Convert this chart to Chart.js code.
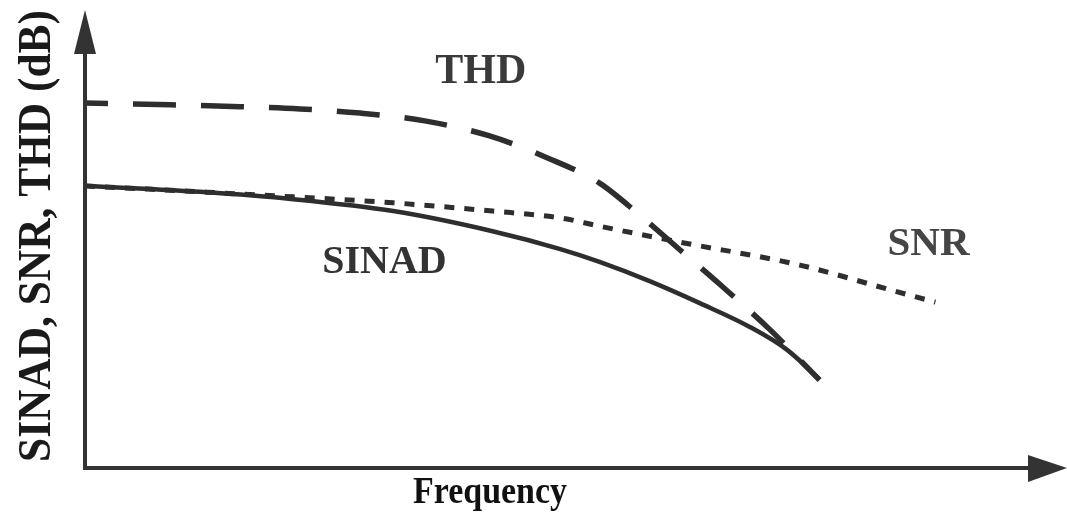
<!DOCTYPE html>
<html>
<head>
<meta charset="utf-8">
<script src="https://cdn.jsdelivr.net/npm/chart.js@4/dist/chart.umd.min.js"></script>
<style>
  html, body { margin: 0; padding: 0; background: #fff; }
  #wrap { width: 1067px; height: 518px; }
</style>
</head>
<body>
<div id="wrap"><canvas id="sinad-chart" width="1067" height="518"></canvas></div>
<script>
// frequency (arbitrary units, 0-100) and level (dB, arbitrary 0-100)
let thdFreq = [0, 8.7, 15.8, 21.9, 28.0, 34.6, 41.2, 47.1, 52.4, 56.5, 60.6, 64.7, 69.8, 74.8]
let thdDb   = [79.7, 79.3, 78.9, 78.4, 77.5, 75.8, 72.5, 67.7, 62.2, 55.2, 47.6, 40.0, 30.1, 19.2]

let sinadFreq = [0, 6.6, 11.7, 21.2, 31.4, 41.5, 48.4, 52.4, 57.5, 62.6, 67.7, 71.5, 74.8]
let sinadDb   = [61.6, 60.9, 60.3, 58.7, 56.1, 51.7, 47.8, 45.0, 40.8, 36.0, 30.8, 25.8, 19.4]

let snrFreq = [0, 11.7, 21.2, 31.4, 41.5, 48.4, 52.4, 60.6, 72.8, 82.0, 86.6]
let snrDb   = [61.6, 60.3, 59.2, 57.9, 56.1, 54.6, 52.8, 49.3, 44.3, 38.9, 36.2]

// curve names and where they sit (in chart units)
let curveNames = ['THD', 'SINAD', 'SNR']
let curveNameAt = [[40.3, 84.1], [30.5, 42.6], [85.9, 46.5]]

let xTitle = 'Frequency'
let yTitle = 'SINAD, SNR, THD (dB)'

let ink = '#2e2e2e'

function toPoints(xs, ys) {
    return xs.map((x, i) => ({x: x, y: ys[i]}))
}

// draws the arrowed axes, the curve names and the axis titles
let sketchPlugin = {
    id: 'sketch',
    afterDatasetsDraw(chart) {
        let ctx = chart.ctx
        let a = chart.chartArea
        let xs = chart.scales.x
        let ys = chart.scales.y
        ctx.save()

        // axes
        ctx.strokeStyle = '#333'
        ctx.fillStyle = '#333'
        ctx.lineWidth = 4
        ctx.lineCap = 'butt'
        ctx.beginPath()
        ctx.moveTo(a.left, a.top + 40)
        ctx.lineTo(a.left, a.bottom)
        ctx.lineTo(a.right - 38, a.bottom)
        ctx.stroke()
        // y arrow head
        ctx.beginPath()
        ctx.moveTo(a.left, a.top)
        ctx.lineTo(a.left - 11, a.top + 44)
        ctx.lineTo(a.left + 11, a.top + 44)
        ctx.closePath()
        ctx.fill()
        // x arrow head
        ctx.beginPath()
        ctx.moveTo(a.right, a.bottom)
        ctx.lineTo(a.right - 39, a.bottom - 13)
        ctx.lineTo(a.right - 39, a.bottom + 14)
        ctx.closePath()
        ctx.fill()

        // curve names
        ctx.textAlign = 'center'
        ctx.textBaseline = 'alphabetic'
        let nameColors = ['#3a3a3a', '#333', '#454545']
        let nameSizes = [42, 40, 41]
        curveNames.forEach(function(name, i) {
            ctx.font = 'bold ' + nameSizes[i] + 'px "Liberation Serif", "Times New Roman", serif'
            ctx.fillStyle = nameColors[i]
            ctx.fillText(name, xs.getPixelForValue(curveNameAt[i][0]), ys.getPixelForValue(curveNameAt[i][1]))
        })

        // x title, squeezed a little like the original
        ctx.fillStyle = '#111'
        ctx.font = 'bold 38px "Liberation Serif", "Times New Roman", serif'
        let w = ctx.measureText(xTitle).width
        ctx.save()
        ctx.translate(490, 503)
        ctx.scale(154 / w, 1)
        ctx.fillText(xTitle, 0, 0)
        ctx.restore()

        // y title, rotated
        ctx.font = 'bold 46px "Liberation Serif", "Times New Roman", serif'
        w = ctx.measureText(yTitle).width
        ctx.save()
        ctx.translate(50, 236)
        ctx.rotate(-Math.PI / 2)
        ctx.scale(452 / w, 1)
        ctx.fillStyle = '#1a1a1a'
        ctx.fillText(yTitle, 0, 0)
        ctx.restore()

        ctx.restore()
    }
}

let canvas = document.querySelector('#sinad-chart')
let context = canvas.getContext('2d')

let chart = new Chart(context, {
    type: 'line',
    data: {
        datasets: [
            {
                label: 'THD',
                data: toPoints(thdFreq, thdDb),
                borderColor: ink,
                borderWidth: 5.5,
                borderDash: [43, 25],
                borderDashOffset: 20,
                borderCapStyle: 'butt',
                cubicInterpolationMode: 'monotone',
                pointRadius: 0
            },
            {
                label: 'SINAD',
                data: toPoints(sinadFreq, sinadDb),
                borderColor: ink,
                borderWidth: 4.5,
                cubicInterpolationMode: 'monotone',
                pointRadius: 0
            },
            {
                label: 'SNR',
                data: toPoints(snrFreq, snrDb),
                borderColor: ink,
                borderWidth: 5,
                borderDash: [10, 10],
                borderCapStyle: 'butt',
                cubicInterpolationMode: 'monotone',
                pointRadius: 0
            }
        ]
    },
    options: {
        responsive: false,
        animation: false,
        events: [],
        layout: { padding: { left: 85, right: 0, top: 10, bottom: 50 } },
        plugins: {
            legend: { display: false },
            tooltip: { enabled: false }
        },
        scales: {
            x: { type: 'linear', min: 0, max: 100, display: false },
            y: { type: 'linear', min: 0, max: 100, display: false }
        }
    },
    plugins: [sketchPlugin]
})
</script>
</body>
</html>
